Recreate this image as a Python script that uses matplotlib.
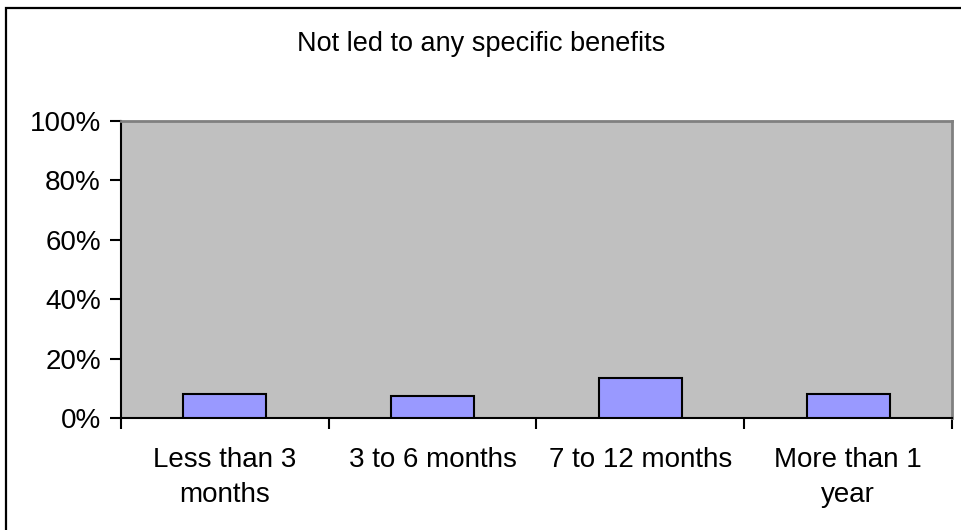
import matplotlib.pyplot as plt
from matplotlib.patches import Rectangle
from matplotlib.ticker import FuncFormatter

plt.rcParams['font.family'] = ['Liberation Sans', 'DejaVu Sans']

categories = ['Less than 3\nmonths', '3 to 6 months', '7 to 12 months', 'More than 1\nyear']
share = [0.081, 0.075, 0.135, 0.081]
title = 'Not led to any specific benefits'

fig = plt.figure(figsize=(9.62, 5.30), dpi=100)
ax = fig.add_axes([121 / 962, 1 - 418 / 530, 831 / 962, 297 / 530])

# frame around the chart area (runs off the right and bottom edges)
fig.patches.append(Rectangle((5.5 / 962, -0.05), 1.2, 1 - 7.5 / 530 + 0.05,
                             transform=fig.transFigure, fill=False,
                             edgecolor='black', linewidth=1.6))

ax.set_facecolor('#C0C0C0')
x = range(len(categories))
ax.bar(x, share, width=0.4, color='#9999FF', edgecolor='black', linewidth=1.5, zorder=3)

ax.set_xlim(-0.5, len(categories) - 0.5)
ax.set_ylim(0, 1)
ax.set_yticks([0, 0.2, 0.4, 0.6, 0.8, 1.0])
ax.yaxis.set_major_formatter(FuncFormatter(lambda v, _: f'{v:.0%}'))

ax.set_xticks(list(x))
ax.set_xticklabels(categories, linespacing=1.45)
ax.set_xticks([i - 0.5 for i in range(len(categories) + 1)], minor=True)
ax.tick_params(axis='x', which='major', length=0, pad=21, labelsize=20)
ax.tick_params(axis='x', which='minor', length=8, width=1.5, direction='out')
ax.tick_params(axis='y', length=8, width=1.5, direction='out', pad=6.5, labelsize=20)

for side in ('left', 'bottom'):
    ax.spines[side].set_color('black')
    ax.spines[side].set_linewidth(1.5)
for side in ('top', 'right'):
    ax.spines[side].set_color('#808080')
    ax.spines[side].set_linewidth(2)

fig.text(481 / 962, 1 - 44 / 530, title, ha='center', va='center', fontsize=19.5)

fig.savefig('out.png', dpi=100)
